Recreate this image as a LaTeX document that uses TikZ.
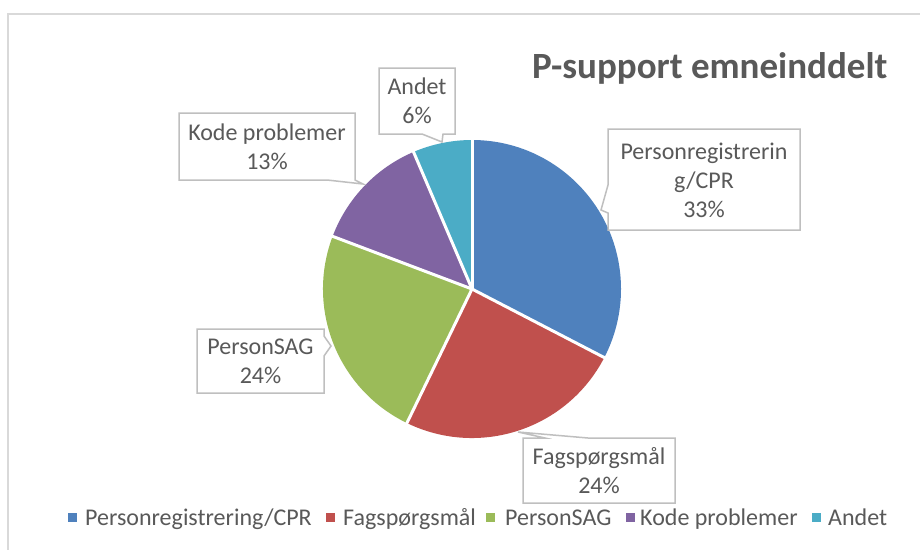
\documentclass[tikz,border=0pt]{standalone}
\usepackage{fontspec}
\setmainfont{Carlito}
\definecolor{bluec}{HTML}{4F81BD}
\definecolor{redc}{HTML}{C0504D}
\definecolor{greenc}{HTML}{9BBB59}
\definecolor{purplec}{HTML}{8064A2}
\definecolor{cyanc}{HTML}{4BACC6}
\definecolor{txtgray}{HTML}{595959}
\definecolor{boxgray}{HTML}{BFBFBF}
\definecolor{framegray}{HTML}{D9D9D9}
\begin{document}
\begin{tikzpicture}[x=1pt,y=-1pt,
  txt/.style={text=txtgray, font=\fontsize{24}{29}\selectfont, align=center, inner sep=0pt},
  callout/.style={draw=boxgray, line width=1.5pt, fill=white, line join=miter},
  sep/.style={draw=white, line width=3pt},
  legtxt/.style={text=txtgray, font=\fontsize{24}{29}\selectfont, anchor=base west, inner sep=0pt},
  legmark/.style={minimum size=9pt, inner sep=0pt, anchor=center}]
\useasboundingbox (0,0) rectangle (920,549);
\fill[white] (0,0) rectangle (920,549);
\draw[framegray, line width=2pt] (8,580) -- (8,14) -- (940,14);
% title
\node[anchor=base west, inner sep=0pt, text=txtgray, font=\fontsize{37}{44}\selectfont\bfseries] (title) at (532,78) {P-support emneinddelt};
% pie
\coordinate (pc) at (472,289);
\fill[bluec] (pc) -- ++(90:149pt) arc[start angle=90, end angle=-27.4, radius=149pt] -- cycle;
\fill[redc] (pc) -- ++(-27.4:149pt) arc[start angle=-27.4, end angle=-115.9, radius=149pt] -- cycle;
\fill[greenc] (pc) -- ++(-115.9:149pt) arc[start angle=-115.9, end angle=-200.7, radius=149pt] -- cycle;
\fill[purplec] (pc) -- ++(159.3:149pt) arc[start angle=159.3, end angle=113.1, radius=149pt] -- cycle;
\fill[cyanc] (pc) -- ++(113.1:149pt) arc[start angle=113.1, end angle=90, radius=149pt] -- cycle;
\foreach \a in {90,-27.4,-115.9,159.3,113.1} \draw[sep] (pc) -- ++(\a:151pt);
% callouts
\draw[callout] (379,68) -- (455,68) -- (455,134) -- (443,134) -- (442,142) -- (422,134) -- (379,134) -- cycle;
\node[txt] (andet) at (417,101) {Andet\\6\%};
\draw[callout] (179,113) -- (355,113) -- (355,180) -- (363,184) -- (327,180) -- (179,180) -- cycle;
\node[txt] (kode) at (267,146.5) {Kode problemer\\13\%};
\draw[callout] (608,129) -- (800,129) -- (800,230) -- (608,230) -- (608,213) -- (601,210) -- (608,185) -- cycle;
\node[txt] (preg) at (704,180) {Personregistrerin\\g/CPR\\33\%};
\draw[callout] (197,329) -- (324,329) -- (324,336) -- (331,346) -- (324,356) -- (324,393) -- (197,393) -- cycle;
\node[txt] (sag) at (260.5,361) {PersonSAG\\24\%};
\draw[callout] (523,503) -- (523,438) -- (545,438) -- (518,432) -- (588,438) -- (675,438) -- (675,503) -- cycle;
\node[txt] (fag) at (599,470.5) {Fagspørgsmål\\24\%};
% legend
\node[legmark, fill=bluec] (m1) at (72.5,517.5) {};
\node[legtxt] (l1) at (85,525) {Personregistrering/CPR};
\node[legmark, fill=redc] (m2) at (330.5,517.5) {};
\node[legtxt] (l2) at (343,525) {Fagspørgsmål};
\node[legmark, fill=greenc] (m3) at (490.5,517.5) {};
\node[legtxt] (l3) at (505,525) {PersonSAG};
\node[legmark, fill=purplec] (m4) at (630,517.5) {};
\node[legtxt] (l4) at (640,525) {Kode problemer};
\node[legmark, fill=cyanc] (m5) at (816,517.5) {};
\node[legtxt] (l5) at (828,525) {Andet};
\end{tikzpicture}
\end{document}
